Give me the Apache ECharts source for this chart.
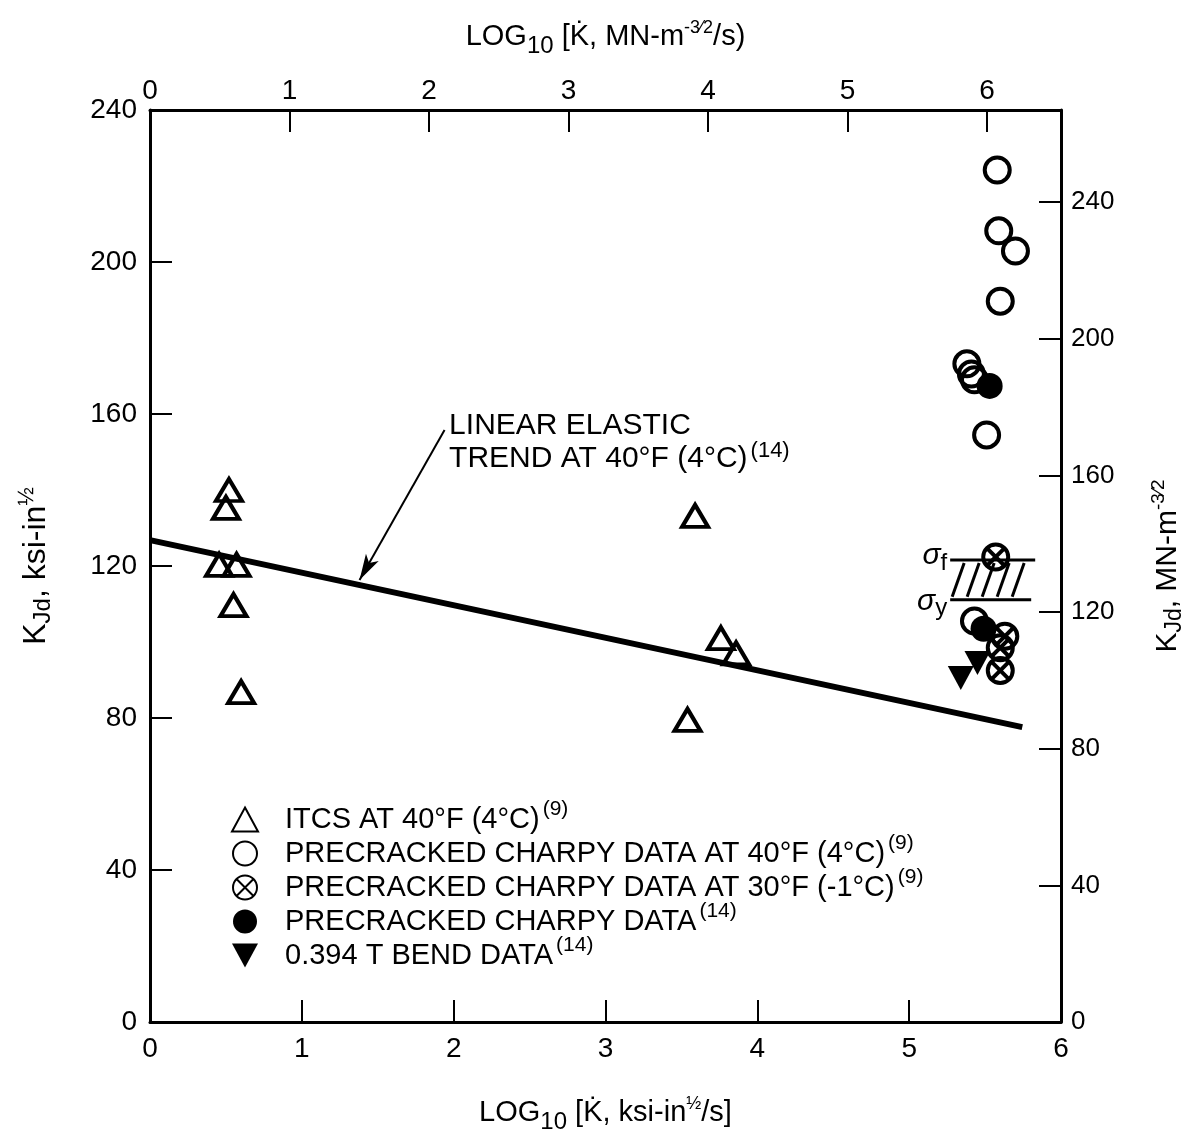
<!DOCTYPE html>
<html>
<head>
<meta charset="utf-8">
<script src="https://cdn.jsdelivr.net/npm/echarts@6/dist/echarts.min.js"></script>
<style>
  html, body { margin: 0; padding: 0; background: #fff; }
  #chart { width: 1185px; height: 1135px; }
</style>
</head>
<body>
<div id="chart"></div>
<script>
// ---- data: log10 loading rate (ksi-in^1/2 / s) vs K_Jd (ksi-in^1/2) ----
const itcsX = [0.52, 0.50, 0.455, 0.57, 0.55, 0.60, 3.59, 3.76, 3.86, 3.54];
const itcsY = [140, 135.3, 120.3, 120.3, 109.7, 86.8, 133.2, 101, 97, 79.5];

const charpy40X = [5.58, 5.59, 5.70, 5.60, 5.38, 5.41, 5.43, 5.51, 5.43];
const charpy40Y = [224.2, 208.2, 202.9, 189.7, 173.2, 170.5, 169, 154.5, 105.5];

const charpy30X = [5.57, 5.63, 5.60, 5.60];
const charpy30Y = [122.4, 101.5, 98.5, 92.5];

const charpy14X = [5.53, 5.49];
const charpy14Y = [167.4, 103.5];

const bendX = [5.34, 5.45];
const bendY = [90.5, 94.5];

// linear elastic trend line end points
const trendX = [0, 5.745];
const trendY = [126.8, 77.6];

// flow-stress band (sigma_y .. sigma_f)
const bandX = [5.27, 5.83];
const bandY = [111.1, 121.6];

const xTicks = [0, 1, 2, 3, 4, 5, 6];
const yTicksLeft = [0, 40, 80, 120, 160, 200, 240];
const yTicksRight = [0, 40, 80, 120, 160, 200, 240];

const legendNames = [
  ['ITCS AT 40°F (4°C)', '(9)'],
  ['PRECRACKED CHARPY DATA AT 40°F (4°C)', '(9)'],
  ['PRECRACKED CHARPY DATA AT 30°F (-1°C)', '(9)'],
  ['PRECRACKED CHARPY DATA', '(14)'],
  ['0.394 T BEND DATA', '(14)']
];

const zip = (xs, ys) => xs.map((x, i) => [x, ys[i]]);
const seriesName = (p) => p[0] + '^' + p[1];

const FONT = 'Liberation Sans, Arial, Helvetica, sans-serif';
const NARROW = 'Liberation Sans Narrow, Liberation Sans, Arial, sans-serif';
const BLACK = '#000';

const crossedCircle = 'path://M2,12A10,10 0 1,1 22,12A10,10 0 1,1 2,12Z M4.93,4.93L19.07,19.07 M19.07,4.93L4.93,19.07';
const downTriangle = 'path://M0,0L26,0L13,24Z';

const chart = echarts.init(document.getElementById('chart'), null, { renderer: 'canvas' });

const nameRich = {
  t: { fontFamily: NARROW, fontSize: 29, color: BLACK },
  sub: { fontFamily: NARROW, fontSize: 24, color: BLACK, padding: [18, 0, 0, 0] },
  sup: { fontFamily: NARROW, fontSize: 18, color: BLACK, padding: [0, 0, 18, 0] },
  tl: { fontFamily: NARROW, fontSize: 32, color: BLACK },
  subl: { fontFamily: NARROW, fontSize: 24, color: BLACK, padding: [15, 0, 0, 0] },
  supl: { fontFamily: NARROW, fontSize: 22, color: BLACK, padding: [0, 0, 18, 0] },
  tr: { fontFamily: NARROW, fontSize: 30, color: BLACK },
  subr: { fontFamily: NARROW, fontSize: 23, color: BLACK, padding: [14, 0, 0, 0] },
  supr: { fontFamily: NARROW, fontSize: 19, color: BLACK, padding: [0, 0, 18, 0] }
};

const axisCommon = {
  axisLine: { show: true, onZero: false, lineStyle: { color: BLACK, width: 3 } },
  axisTick: { show: true, inside: true, length: 22, lineStyle: { color: BLACK, width: 2 } },
  splitLine: { show: false },
  nameTextStyle: { color: BLACK, fontFamily: NARROW, fontSize: 29, rich: nameRich }
};

const openStyle = { color: 'rgba(255,255,255,0)', borderColor: BLACK, borderWidth: 4, opacity: 1 };

const option = {
  backgroundColor: '#fff',
  animation: false,
  grid: { left: 150, right: 124, top: 110, bottom: 113, containLabel: false, outerBoundsMode: 'none' },
  xAxis: [
    Object.assign({}, axisCommon, {
      type: 'value', position: 'bottom', min: xTicks[0], max: xTicks[xTicks.length - 1], interval: 1,
      axisLabel: { color: BLACK, fontFamily: NARROW, fontSize: 28, margin: 13 },
      name: '{t|LOG}{sub|10}{t| [K\u0307, ksi-in}{sup|½}{t|/s]}',
      nameLocation: 'middle', nameGap: 70
    }),
    Object.assign({}, axisCommon, {
      type: 'value', position: 'top', min: 0, max: 6.53, interval: 1,
      axisLabel: { color: BLACK, fontFamily: NARROW, fontSize: 28, margin: 5, showMaxLabel: false },
      name: '{t|LOG}{sub|10}{t| [K\u0307, MN-m}{sup|-3⁄2}{t|/s)}',
      nameLocation: 'middle', nameGap: 52
    })
  ],
  yAxis: [
    Object.assign({}, axisCommon, {
      type: 'value', position: 'left', min: yTicksLeft[0], max: yTicksLeft[yTicksLeft.length - 1], interval: 40,
      axisLabel: { color: BLACK, fontFamily: FONT, fontSize: 28, margin: 13 },
      name: '{tl|K}{subl|Jd}{tl|, ksi-in}{supl|½}',
      nameLocation: 'middle', nameGap: 94
    }),
    Object.assign({}, axisCommon, {
      type: 'value', position: 'right', min: 0, max: 267, interval: 40,
      axisLabel: { color: BLACK, fontFamily: FONT, fontSize: 26, margin: 10, showMaxLabel: false },
      name: '{tr|K}{subr|Jd}{tr|, MN-m}{supr|-3⁄2}',
      nameLocation: 'middle', nameGap: 88, nameRotate: 90
    })
  ],
  legend: {
    orient: 'vertical', left: 226, top: 794, itemGap: -7,
    itemWidth: 26, itemHeight: 24, selectedMode: false,
    data: legendNames.map(seriesName),
    formatter: (name) => {
      const [a, b] = name.split('^');
      return '{t|' + a + '}{sup|' + b + '}';
    },
    textStyle: {
      color: BLACK, fontFamily: FONT, fontSize: 28, padding: [0, 0, 0, 22],
      rich: {
        t: { fontFamily: FONT, fontSize: 29, color: BLACK, lineHeight: 28 },
        sup: { fontFamily: FONT, fontSize: 21, color: BLACK, lineHeight: 8, padding: [0, 0, 20, 3] }
      }
    }
  },
  series: [
    {
      type: 'line', name: 'trend', data: zip(trendX, trendY),
      symbol: 'none', lineStyle: { color: BLACK, width: 6 }, z: 2,
      markLine: {
        silent: true, animation: false,
        symbol: ['none', 'arrow'], symbolSize: [11, 26],
        label: { show: false },
        lineStyle: { color: BLACK, width: 2, type: 'solid' },
        data: [[{ coord: [1.94, 155.8] }, { coord: [1.38, 116.3] }]]
      }
    },
    {
      type: 'custom', name: 'band', data: [[bandX[0], bandX[1], bandY[0], bandY[1]]],
      renderItem: (params, api) => {
        const p0 = api.coord([api.value(0), api.value(2)]);
        const p1 = api.coord([api.value(1), api.value(3)]);
        const xl = p0[0], xr = p1[0], yb = p0[1], yt = p1[1];
        const children = [
          { type: 'line', shape: { x1: xl, y1: yt, x2: xr, y2: yt }, style: { stroke: BLACK, lineWidth: 3 } },
          { type: 'line', shape: { x1: xl, y1: yb, x2: xr - 4, y2: yb }, style: { stroke: BLACK, lineWidth: 3 } }
        ];
        const slant = 12, step = 15;
        for (let x = xl + 2; x + slant <= xr - 6; x += step) {
          children.push({ type: 'line', shape: { x1: x, y1: yb - 3, x2: x + slant, y2: yt + 3 },
            style: { stroke: BLACK, lineWidth: 3 } });
        }
        const sigma = (sub, y) => ({ type: 'text', x: xl - 3, y,
          style: { text: '{s|σ}{i|' + sub + '}', align: 'right', verticalAlign: 'middle',
            rich: { s: { fontFamily: FONT, fontStyle: 'italic', fontSize: 30, fill: BLACK },
                    i: { fontFamily: FONT, fontSize: 24, fill: BLACK, padding: [14, 0, 0, 0] } } } });
        children.push(sigma('f', yt - 4));
        children.push(sigma('y', yb + 2));
        return { type: 'group', children };
      },
      z: 1
    },
    {
      type: 'scatter', name: seriesName(legendNames[0]), data: zip(itcsX, itcsY),
      symbol: 'triangle', symbolSize: [26, 22], itemStyle: openStyle, z: 3
    },
    {
      type: 'scatter', name: seriesName(legendNames[1]), data: zip(charpy40X, charpy40Y),
      symbol: 'circle', symbolSize: 25, itemStyle: openStyle, z: 3
    },
    {
      type: 'scatter', name: seriesName(legendNames[2]), data: zip(charpy30X, charpy30Y),
      symbol: crossedCircle, symbolSize: 25, itemStyle: openStyle, z: 4
    },
    {
      type: 'scatter', name: seriesName(legendNames[3]), data: zip(charpy14X, charpy14Y),
      symbol: 'circle', symbolSize: 26, itemStyle: { color: BLACK, opacity: 1 }, z: 3
    },
    {
      type: 'scatter', name: seriesName(legendNames[4]), data: zip(bendX, bendY),
      symbol: downTriangle, symbolSize: [26, 24], itemStyle: { color: BLACK, opacity: 1 }, z: 3
    }
  ]
};

chart.setOption(option);

// trend annotation text, anchored in data coordinates
const noteAnchor = chart.convertToPixel({ xAxisIndex: 0, yAxisIndex: 0 }, [1.97, 156.8]);
chart.setOption({
  graphic: [{
    type: 'text', left: noteAnchor[0], top: noteAnchor[1] - 15,
    style: {
      text: '{t|LINEAR ELASTIC}\n{t|TREND AT 40°F (4°C)}{sup|(14)}',
      rich: {
        t: { fontFamily: FONT, fontSize: 30, fill: BLACK, lineHeight: 33 },
        sup: { fontFamily: FONT, fontSize: 22, fill: BLACK, lineHeight: 33, padding: [0, 0, 16, 3] }
      }
    }
  }]
});
</script>
</body>
</html>
